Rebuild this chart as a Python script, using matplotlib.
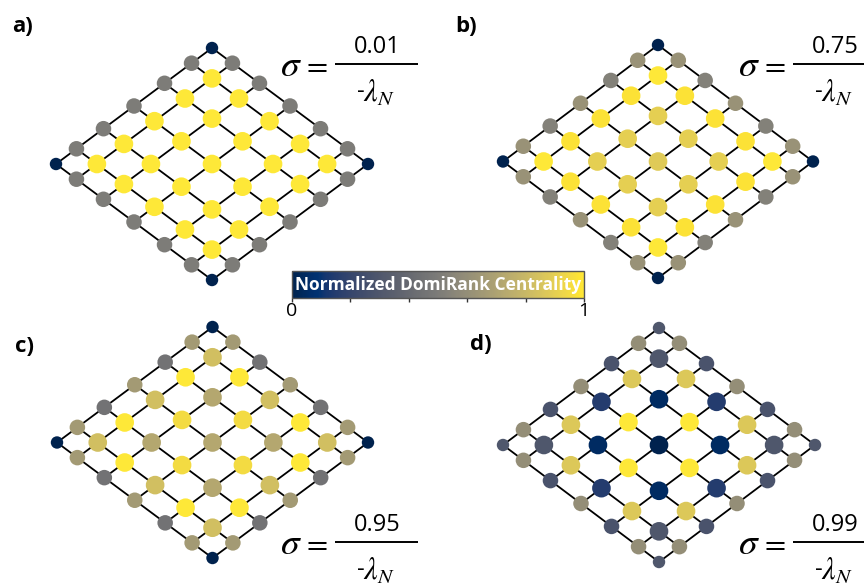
import numpy as np
import matplotlib
matplotlib.use("Agg")
import matplotlib.pyplot as plt
from matplotlib.collections import LineCollection
from matplotlib import cm, colors

plt.rcParams["font.family"] = ["Open Sans", "DejaVu Sans"]
plt.rcParams["mathtext.fontset"] = "stix"

N_SIDE = 7
PANEL_LABELS = ["a)", "b)", "c)", "d)"]
SIGMA_NUM = ["0.01", "0.75", "0.95", "0.99"]

# normalized DomiRank centrality on the 7x7 lattice
# row r runs down-left from the top corner, column c runs down-right
dr_a = [[0.00, 0.50, 0.50, 0.50, 0.50, 0.50, 0.00],
        [0.50, 1.00, 1.00, 1.00, 1.00, 1.00, 0.50],
        [0.50, 1.00, 1.00, 1.00, 1.00, 1.00, 0.50],
        [0.50, 1.00, 1.00, 1.00, 1.00, 1.00, 0.50],
        [0.50, 1.00, 1.00, 1.00, 1.00, 1.00, 0.50],
        [0.50, 1.00, 1.00, 1.00, 1.00, 1.00, 0.50],
        [0.00, 0.50, 0.50, 0.50, 0.50, 0.50, 0.00]]

dr_b = [[0.00, 0.62, 0.53, 0.62, 0.53, 0.62, 0.00],
        [0.62, 1.00, 0.98, 0.98, 0.98, 1.00, 0.62],
        [0.53, 0.98, 0.90, 0.90, 0.90, 0.98, 0.53],
        [0.62, 0.98, 0.90, 0.88, 0.90, 0.98, 0.62],
        [0.53, 0.98, 0.90, 0.90, 0.90, 0.98, 0.53],
        [0.62, 1.00, 0.98, 0.98, 0.98, 1.00, 0.62],
        [0.00, 0.62, 0.53, 0.62, 0.53, 0.62, 0.00]]

dr_c = [[0.00, 0.66, 0.45, 0.66, 0.45, 0.66, 0.00],
        [0.66, 0.83, 1.00, 0.83, 1.00, 0.83, 0.66],
        [0.45, 1.00, 0.72, 0.95, 0.72, 1.00, 0.45],
        [0.66, 0.83, 0.95, 0.72, 0.95, 0.83, 0.66],
        [0.45, 1.00, 0.72, 0.95, 0.72, 1.00, 0.45],
        [0.66, 0.83, 1.00, 0.83, 1.00, 0.83, 0.66],
        [0.00, 0.66, 0.45, 0.66, 0.45, 0.66, 0.00]]

dr_d = [[0.30, 0.60, 0.28, 0.60, 0.28, 0.60, 0.30],
        [0.60, 0.30, 0.87, 0.15, 0.87, 0.30, 0.60],
        [0.28, 0.87, 0.05, 1.00, 0.05, 0.87, 0.28],
        [0.60, 0.15, 1.00, 0.00, 1.00, 0.15, 0.60],
        [0.28, 0.87, 0.05, 1.00, 0.05, 0.87, 0.28],
        [0.60, 0.30, 0.87, 0.15, 0.87, 0.30, 0.60],
        [0.30, 0.60, 0.28, 0.60, 0.28, 0.60, 0.30]]

PANEL_VALUES = [dr_a, dr_b, dr_c, dr_d]

# ── lattice graph ──
nodes = [(r, c) for r in range(N_SIDE) for c in range(N_SIDE)]
idx = {rc: i for i, rc in enumerate(nodes)}
edges = []
for r, c in nodes:
    if r + 1 < N_SIDE: edges.append((idx[(r, c)], idx[(r + 1, c)]))
    if c + 1 < N_SIDE: edges.append((idx[(r, c)], idx[(r, c + 1)]))
deg = np.zeros(len(nodes), int)
for i, j in edges:
    deg[i] += 1; deg[j] += 1

# layout: rotated lattice whose spacing shrinks towards the rim
# (the look of a spring layout of a grid graph)
half = (N_SIDE - 1) / 2
u = np.array([r for r, c in nodes]) - half
v = np.array([c for r, c in nodes]) - half
g = lambda s: np.sin(0.34 * s)
pos = np.column_stack([g(v) - g(u), -(g(u) + g(v))])

# ── figure ──
W, H = 864, 588
fig = plt.figure(figsize=(W / 100, H / 100), dpi=100)

# node-centre extents of each network, in pixels (left, top, right, bottom)
PANEL_BOX = [(56, 48, 368, 280), (503, 45, 813, 278),
             (57, 327, 368, 558), (503, 328, 815, 562)]
NODE_SIZE = {2: 80, 3: 125, 4: 180}
cmap = plt.get_cmap("cividis")

segs = [[pos[i], pos[j]] for i, j in edges]
for vals, (x0, y0, x1, y1) in zip(PANEL_VALUES, PANEL_BOX):
    ax = fig.add_axes([x0 / W, 1 - y1 / H, (x1 - x0) / W, (y1 - y0) / H])
    ax.set_xlim(pos[:, 0].min(), pos[:, 0].max())
    ax.set_ylim(pos[:, 1].min(), pos[:, 1].max())
    ax.axis("off")
    ax.add_collection(LineCollection(segs, colors="black", linewidths=1.3,
                                     zorder=1, clip_on=False))
    vv = np.array([vals[r][c] for r, c in nodes])
    ax.scatter(pos[:, 0], pos[:, 1], c=vv, cmap=cmap, vmin=0, vmax=1,
               s=[NODE_SIZE[d] for d in deg], linewidths=0, zorder=2, clip_on=False)

# overlay in pixel coordinates for labels / formulas
ov = fig.add_axes([0, 0, 1, 1])
ov.set_xlim(0, W); ov.set_ylim(H, 0); ov.axis("off")

LABEL_XY = [(12, 32), (455, 32), (15, 352), (470, 350)]
for lab, (lx, ly) in zip(PANEL_LABELS, LABEL_XY):
    ov.text(lx, ly, lab, fontsize=16, fontweight="bold", ha="left", va="baseline")

def sigma_formula(x0, y0, num):
    ov.text(x0 + 11, y0 + 1.5, r"$\sigma$", fontsize=27, ha="center", va="center")
    ov.text(x0 + 35, y0 + 2, r"$=$", fontsize=22, ha="center", va="center")
    ov.plot([x0 + 55, x0 + 138], [y0, y0], color="black", lw=1.4,
            solid_capstyle="butt", clip_on=False)
    ov.text(x0 + 97.5, y0 - 11, num, fontsize=17, ha="center", va="baseline")
    ov.text(x0 + 77, y0 + 34.5, "-", fontsize=17, ha="left", va="baseline")
    ov.text(x0 + 83, y0 + 38, r"$\lambda_N$", fontsize=22, ha="left", va="baseline")

FORMULA_XY = [(280, 64), (738, 64), (280, 542), (738, 542)]
for num, (fx, fy) in zip(SIGMA_NUM, FORMULA_XY):
    sigma_formula(fx, fy, num)

# colorbar
cax = fig.add_axes([292 / W, 1 - 298 / H, 292 / W, 27 / H])
cb = fig.colorbar(cm.ScalarMappable(norm=colors.Normalize(0, 1), cmap=cmap),
                  cax=cax, orientation="horizontal")
cb.set_ticks([0, 0.2, 0.4, 0.6, 0.8, 1.0])
cb.set_ticklabels(["0", "", "", "", "", "1"])
cax.tick_params(length=3, width=1, labelsize=14, pad=0, color="#333333")
cb.outline.set_edgecolor("#555555"); cb.outline.set_linewidth(1)
cax.text(0.5, 0.5, "Normalized DomiRank Centrality", transform=cax.transAxes,
         ha="center", va="center", color="white", fontweight="bold", fontsize=12.5)

fig.savefig("out.png", dpi=100)
